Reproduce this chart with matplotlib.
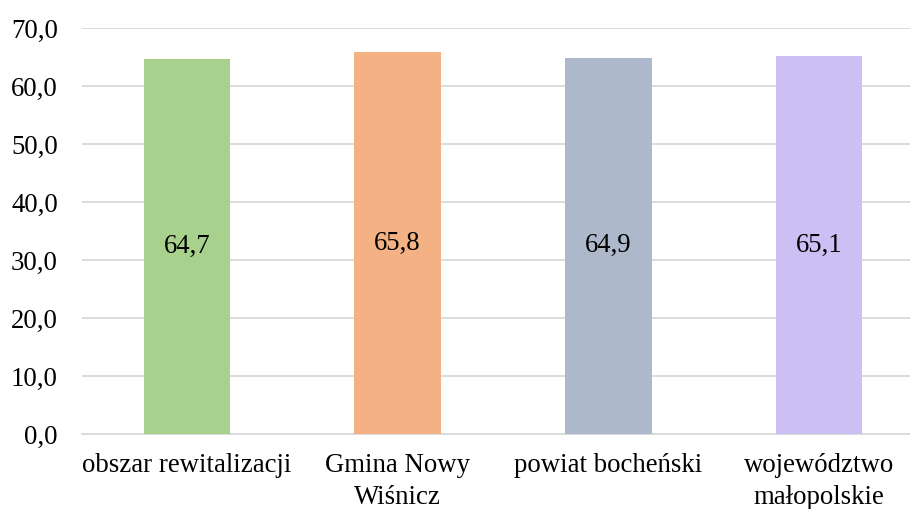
import matplotlib
matplotlib.use("Agg")
import matplotlib.pyplot as plt
from matplotlib.ticker import FuncFormatter

kategorie = ["obszar rewitalizacji", "Gmina Nowy\nWiśnicz", "powiat bocheński", "województwo\nmałopolskie"]
wartosci = [64.7, 65.8, 64.9, 65.1]
kolory = ["#a9d18e", "#f4b183", "#adb9ca", "#cbbff3"]

plt.rcParams["font.family"] = "serif"
plt.rcParams["font.serif"] = ["Liberation Serif", "Times New Roman", "DejaVu Serif"]

W, H = 910, 509
fs = 19.3
fig = plt.figure(figsize=(W / 100, H / 100), dpi=100)
ax = fig.add_axes([81.5 / W, 1 - 434 / H, 843 / W, 406 / H])

x = range(len(kategorie))
ax.bar(x, wartosci, width=0.41, color=kolory, zorder=3)
for i, v in zip(x, wartosci):
    ax.text(i, v / 2, f"{v:.1f}".replace(".", ","), ha="center", va="center",
            fontsize=fs, color="#000000", zorder=4)

ax.set_xlim(-0.5, len(kategorie) - 0.5)
ax.set_ylim(0, 70)
ax.set_yticks(range(0, 71, 10))
ax.yaxis.set_major_formatter(FuncFormatter(lambda v, p: f"{v:.1f}".replace(".", ",")))
ax.set_xticks(list(x))
ax.set_xticklabels(kategorie, fontsize=fs, linespacing=1.35)
ax.tick_params(axis="y", labelsize=fs, length=0, pad=17)
ax.tick_params(axis="x", length=0, pad=14)
ax.grid(axis="y", color="#d9d9d9", linewidth=1.3, zorder=0)
for s in ["top", "right", "left"]:
    ax.spines[s].set_visible(False)
ax.spines["bottom"].set_color("#d9d9d9")
ax.spines["bottom"].set_linewidth(1.3)

fig.savefig("out.png", dpi=100)
